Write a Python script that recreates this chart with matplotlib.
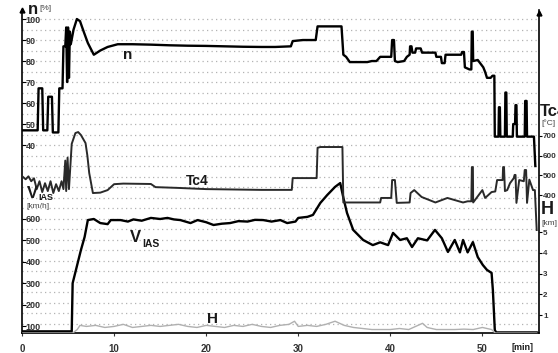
import matplotlib
matplotlib.use("Agg")
import matplotlib.pyplot as plt

plt.rcParams['font.family'] = ['Liberation Sans', 'DejaVu Sans']

# ---------------- data (time in minutes) ----------------
n_t = [0.1, 1.7, 1.8, 2.2, 2.3, 2.75, 2.85, 3.25, 3.35, 3.95, 4.05, 4.4, 4.5, 4.7, 4.8, 4.9, 5.0, 5.1, 5.2, 5.3,
       5.6, 5.96, 6.3, 6.7, 7.15, 7.8, 8.5, 9.3, 10.4, 12, 14, 16, 18, 20, 22, 24, 26, 27.5, 29.2, 29.4, 30.5,
       31.9, 32.1, 34.7, 34.9, 35.2, 35.6, 37.5, 38.0, 38.5, 38.9, 40.1, 40.2, 40.4, 40.5, 40.8, 41.5, 41.8,
       42.1, 42.15, 42.3, 42.4, 42.7, 42.8, 43.3, 43.45, 44.9, 45.0, 45.5, 45.6, 45.9, 46.0, 47.7, 47.8, 48.0,
       48.1, 48.6, 48.8, 48.85, 48.95, 49.0, 49.5, 50.1, 50.3, 50.5, 50.9, 51.1, 51.3, 51.35, 51.75, 51.8,
       51.9, 51.95, 52.45, 52.5, 52.6, 52.65, 53.3, 53.35, 53.55, 53.6, 53.7, 53.75, 54.6, 54.65, 54.8, 54.85,
       55.6, 55.75]
n_v = [47, 47, 67, 67, 47, 47, 63, 63, 46, 46, 67, 67, 87, 87, 96, 70, 96, 72, 94, 88,
       95, 100, 99, 94, 88.6, 83, 85, 86.7, 88, 88, 87.8, 87.5, 87.3, 87.2, 87.0, 86.8, 86.7, 86.7, 87, 89.5, 90,
       90, 96.5, 96.5, 83, 82, 79.5, 79.5, 80, 80, 82, 82, 90, 90, 80, 79.5, 80, 82,
       83, 87, 87, 84, 84, 86, 86, 84, 84, 82, 82, 79, 79, 83, 83, 84.3, 84.3,
       77, 76, 76, 94, 94, 80, 80.5, 77, 74.8, 72, 72, 73, 73, 44, 44, 58,
       58, 44, 44, 65, 65, 44, 44, 50, 50, 59, 59, 44, 44, 61, 61, 44,
       44, 30]

tc_t = [0.1, 0.4, 0.7, 1.0, 1.3, 1.6, 1.9, 2.2, 2.5, 2.8, 3.1, 3.4, 3.7, 4.0, 4.3, 4.5, 4.7, 4.8, 4.95, 5.1,
        5.4, 5.8, 6.1, 6.4, 6.9, 7.1, 7.3, 7.7, 8.5, 9.3, 10.0, 11, 14, 14.5, 17, 20, 23, 26, 29.3, 29.4,
        32.0, 32.1, 32.4, 34.8, 34.9, 36, 38.9, 39, 40.1, 40.2, 40.5, 40.7, 42.1, 42.2, 42.6, 43.4, 44.9,
        46.2, 47.9, 48.4, 48.8, 48.86, 48.97, 49.0, 50.0, 50.3, 51.0, 51.4, 51.6, 52.2, 52.25, 52.35, 52.45,
        52.7, 53.0, 53.4, 53.5, 53.6, 53.7, 54.0, 54.5, 54.6, 54.75, 54.85, 55.1, 55.5, 55.7, 55.9]
tc_v = [492, 480, 495, 470, 485, 430, 470, 415, 460, 420, 470, 410, 455, 420, 470, 430, 575, 420, 590, 430,
        660, 715, 720, 705, 664, 600, 512, 410, 412, 425, 455, 458, 456, 440, 436, 430, 428, 426, 426, 486,
        486, 640, 644, 644, 362, 362, 362, 385, 385, 476, 476, 360, 362, 410, 425, 390, 362,
        385, 362, 368, 368, 542, 542, 362, 425, 385, 415, 418, 476, 476, 542, 542, 420,
        425, 460, 485, 502, 502, 360, 476, 470, 527, 527, 360, 478, 425, 425, 222]

v_t = [0.1, 5.4, 5.5, 6.4, 6.8, 7.15, 7.8, 8.5, 9.3, 9.64, 10.7, 11.5, 12.1, 13.0, 14, 15.0, 15.8, 16.5, 17.2,
       18.3, 19.07, 20.0, 20.8, 21.7, 22.6, 23.5, 24.5, 25.3, 26.2, 27.1, 28.06, 28.8, 29.7, 30.0, 31.0, 31.6,
       32.4, 33.15, 34.0, 34.56, 34.9, 35.3, 35.97, 37.05, 38.1, 38.9, 39.76, 40.3, 41.06, 41.8, 42.36, 43.0,
       44.0, 44.85, 45.6, 46.26, 47.0, 47.56, 47.9, 48.4, 48.97, 49.5, 50.05, 50.5, 51.0, 51.14, 51.35, 51.5,
       55.9]
v_v = [75, 75, 300, 455, 516, 595, 600, 581, 576, 595, 595, 588, 598, 592, 605, 600, 605, 598, 595,
       581, 595, 585, 572, 578, 581, 590, 588, 596, 595, 588, 595, 581, 588, 605, 610, 619,
       675, 712, 750, 768, 700, 628, 549, 502, 478, 491, 478, 535, 502, 510, 469, 510,
       500, 549, 510, 446, 502, 444, 502, 444, 492, 422, 385, 362, 348, 268, 81, 70,
       70]

h_t = [0.1, 5.5, 6.0, 6.3, 7, 8, 9, 10, 11, 12, 13, 14, 15, 16, 17, 18, 19, 20, 21, 22, 23, 24, 25, 26, 27,
       28, 29, 29.6, 30, 31, 32, 33, 34, 35, 36, 37, 38, 39, 40, 41, 42, 43, 43.5, 44, 45, 46, 47, 48, 49,
       50, 51, 51.4, 55.9]
h_v = [0.13, 0.13, 0.3, 0.5, 0.45, 0.5, 0.4, 0.45, 0.55, 0.4, 0.45, 0.5, 0.45, 0.5, 0.55, 0.45, 0.4, 0.5,
       0.45, 0.4, 0.5, 0.45, 0.55, 0.45, 0.4, 0.5, 0.55, 0.7, 0.45, 0.5, 0.45, 0.55, 0.7, 0.5, 0.4, 0.35,
       0.3, 0.3, 0.3, 0.35, 0.3, 0.5, 0.6, 0.4, 0.3, 0.3, 0.3, 0.32, 0.3, 0.4, 0.3, 0.13, 0.13]

x_ticks = [0, 10, 20, 30, 40, 50]
n_ticks = [40, 50, 60, 70, 80, 90, 100]
v_ticks = [100, 200, 300, 400, 500, 600]
tc_ticks = [400, 500, 600, 700]
h_ticks = [1, 2, 3, 4, 5]

# ---------------- figure ----------------
W, H = 558, 353
fig = plt.figure(figsize=(W / 100, H / 100), dpi=100)
L, R, T, B = 22, 539, 10, 333
ax = fig.add_axes([L / W, 1 - B / H, (R - L) / W, (B - T) / H])


def P(x, y):
    return x / W, 1 - y / H


ax.set_xlim(0, 56.15)
ax.set_ylim(-49.5, 104.3)
axV = ax.twinx()
axV.set_ylim(67.3, 1576.6)
axT = ax.twinx()
axT.set_ylim(-301.6, 1340.6)
axH = ax.twinx()
axH.set_ylim(0.133, 15.7)

# dotted grid
for g in range(100, -50, -5):
    ax.axhline(g, color='#b3b3b3', lw=0.9, ls=(0, (1, 2.6)), zorder=0)

tk = dict(fontsize=6.5, fontweight='bold', color='#333333')

# spines
for a in (ax, axV, axT, axH):
    for s in a.spines.values():
        s.set_visible(False)
ax.spines['left'].set_visible(True)
ax.spines['bottom'].set_visible(True)
axH.spines['right'].set_visible(True)
for s in (ax.spines['left'], ax.spines['bottom'], axH.spines['right']):
    s.set_linewidth(1.2)
    s.set_color('black')
ax.plot([0], [1.0], marker='^', color='black', ms=3.5, transform=ax.transAxes, clip_on=False)
ax.plot([1], [0.99], marker='^', color='black', ms=3.5, transform=ax.transAxes, clip_on=False)

# x axis
ax.set_xticks(x_ticks)
ax.set_xticklabels([str(v) for v in x_ticks], fontsize=7, fontweight='bold', color='#333333')
ax.tick_params(axis='x', direction='out', length=2, pad=6, colors='#333333')

# left inner scales
ax.set_yticks(n_ticks)
ax.set_yticklabels([str(v) for v in n_ticks], **tk)
ax.tick_params(axis='y', direction='in', length=3, pad=-2.5)
for lb in ax.get_yticklabels():
    lb.set_ha('left')
axV.yaxis.tick_left()
axV.set_yticks(v_ticks)
axV.set_yticklabels([str(v) for v in v_ticks], **tk)
axV.tick_params(axis='y', direction='in', length=3, pad=-2.5)
for lb in axV.get_yticklabels():
    lb.set_ha('left')

# right scales
rk = dict(fontsize=5.8, fontweight='bold', color='#333333')
axT.yaxis.tick_right()
axT.set_yticks(tc_ticks)
axT.set_yticklabels([str(v) for v in tc_ticks], **rk)
axT.tick_params(axis='y', direction='out', length=2, pad=0.5)
axH.yaxis.tick_right()
axH.set_yticks(h_ticks)
axH.set_yticklabels([str(v) for v in h_ticks], **rk)
axH.tick_params(axis='y', direction='out', length=2, pad=1)

# series
axH.plot(h_t, h_v, color='#b0b0b0', lw=1.0, zorder=3)
axT.plot(tc_t, tc_v, color='#2a2a2a', lw=1.4, zorder=3)
axV.plot(v_t, v_v, color='black', lw=1.7, zorder=4)
ax.plot(n_t, n_v, color='black', lw=1.7, zorder=4)

# labels
lab = dict(fontweight='bold', color='#1a1a1a', va='center')
fig.text(*P(28, 9), 'n', fontsize=12, ha='left', **lab)
fig.text(*P(39, 9), '[%]', fontsize=6, ha='left', color='#444444', va='center')
fig.text(*P(27, 193), 'V', fontsize=12, ha='left', **lab)
fig.text(*P(38, 198), 'IAS', fontsize=6.5, ha='left', **lab)
fig.text(*P(26, 206), '[km/h]', fontsize=6, ha='left', color='#444444', va='center')
fig.text(*P(540, 111), 'Tc4', fontsize=12, ha='left', **lab)
fig.text(*P(541, 123), '[°C]', fontsize=6, ha='left', color='#444444', va='center')
fig.text(*P(541, 209), 'H', fontsize=13, ha='left', **lab)
fig.text(*P(541, 223), '[km]', fontsize=6, ha='left', color='#444444', va='center')
fig.text(*P(512, 347), '[min]', fontsize=6.5, ha='left', **lab)

fig.text(*P(128, 55), 'n', fontsize=11, ha='center', **lab)
fig.text(*P(197, 181), 'Tc4', fontsize=10, ha='center', **lab)
fig.text(*P(135, 238), 'V', fontsize=12, ha='center', **lab)
fig.text(*P(142, 244), 'IAS', fontsize=7.5, ha='left', **lab)
fig.text(*P(212, 319), 'H', fontsize=11, ha='center', **lab)

fig.savefig('out.png', dpi=100)
